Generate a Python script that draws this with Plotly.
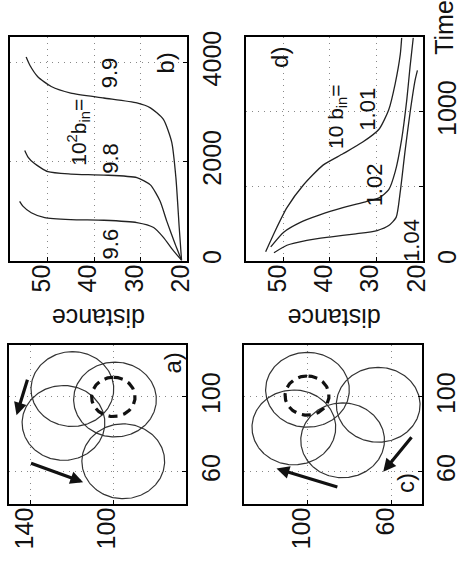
import numpy as np
import plotly.graph_objects as go

W, H = 463, 566

# ---------------- data ----------------
# panel b: distance vs time for 10^2 b_in = 9.6, 9.8, 9.9
b_labels = ["9.6", "9.8", "9.9"]
b_time_96 = [14, 212, 475, 673, 772, 818, 832, 871, 970, 1103, 1200]
b_dist_96 = [21.2, 23.0, 25.1, 27.2, 30.8, 37.9, 45.0, 50.6, 53.5, 55.3, 56.0]
b_time_98 = [14, 343, 806, 1202, 1531, 1677, 1729, 1749, 1796, 1960, 2092, 2224]
b_dist_98 = [21.2, 22.6, 24.4, 25.8, 27.9, 30.8, 37.9, 45.0, 49.9, 52.8, 54.2, 54.9]
b_time_99 = [14, 673, 1663, 2389, 2851, 3083, 3182, 3281, 3380, 3512, 3710, 3941, 4106]
b_dist_99 = [21.2, 21.7, 22.4, 23.3, 25.1, 27.9, 30.8, 37.9, 45.0, 49.2, 52.1, 53.8, 54.6]

# panel d: distance vs time for 10 b_in = 1.01, 1.02, 1.04
d_labels = ["1.01", "1.02", "1.04"]
d_time_101 = [61, 204, 357, 511, 643, 719, 796, 884, 1015, 1191, 1388, 1498]
d_dist_101 = [53.9, 51.8, 49.3, 45.7, 41.5, 37.2, 33.0, 29.4, 27.3, 25.9, 24.8, 24.5]
d_time_102 = [94, 193, 259, 309, 357, 397, 423, 478, 599, 818, 1081, 1301, 1498]
d_dist_102 = [52.8, 50.0, 46.4, 42.2, 37.2, 32.3, 29.4, 27.3, 25.9, 24.5, 23.4, 22.7, 22.0]
d_time_104 = [55, 105, 138, 160, 182, 204, 237, 292, 467, 730, 993, 1213, 1279]
d_dist_104 = [52.1, 49.3, 45.0, 40.1, 34.4, 29.8, 27.3, 25.7, 24.8, 23.8, 22.7, 21.6, 21.1]

# panel a: circles (x, y, radius)
a_circle_x = [65.6, 86.1, 104.2, 98.6]
a_circle_y = [95.2, 124.1, 119.8, 99.2]
a_circle_r = [20, 20, 20, 20]
a_dash_x, a_dash_y, a_dash_r = 100, 100, 10.5
a_arrow_x0 = [64.9, 110.0]
a_arrow_y0 = [140.5, 141.3]
a_arrow_x1 = [54.4, 90.2]
a_arrow_y1 = [114.6, 146.8]

# panel c
c_circle_x = [103.8, 83.7, 95.8, 76.8]
c_circle_y = [100.1, 106.6, 66.3, 83.3]
c_circle_r = [20, 20, 20, 20]
c_dash_x, c_dash_y, c_dash_r = 100.7, 100.3, 10.5
c_arrow_x0 = [51.6, 79.3]
c_arrow_y0 = [85.1, 49.8]
c_arrow_x1 = [61.7, 60.0]
c_arrow_y1 = [114.9, 63.9]

# ---------------- helpers ----------------
FONT = "Liberation Sans, Arial, Helvetica, sans-serif"
FS = 25


def px(x, y):
    return x / W, 1 - y / H


def dom(x0, x1, y0, y1):
    return [x0 / W, x1 / W], [1 - y1 / H, 1 - y0 / H]


fig = go.Figure()

line_style = dict(color="#222", width=1.3)


def add_curve(t, d, ax):
    # figure is rotated: distance runs horizontally, time vertically
    fig.add_trace(go.Scatter(x=d, y=t, mode="lines", line=dict(shape="spline", smoothing=0.6, **line_style),
                             xaxis="x" + ax, yaxis="y" + ax, showlegend=False, hoverinfo="skip"))


def add_circle(cx, cy, r, ax, dash=False):
    th = np.linspace(0, 2 * np.pi, 240)
    ox = cx + r * np.cos(th)
    oy = cy + r * np.sin(th)
    if dash:
        ln = dict(color="#111", width=3.2, dash="9px,6px")
    else:
        ln = dict(color="#333", width=1.2)
    fig.add_trace(go.Scatter(x=oy, y=ox, mode="lines", line=ln,
                             xaxis="x" + ax, yaxis="y" + ax, showlegend=False, hoverinfo="skip"))


add_curve(b_time_96, b_dist_96, "")
add_curve(b_time_98, b_dist_98, "")
add_curve(b_time_99, b_dist_99, "")
add_curve(d_time_101, d_dist_101, "2")
add_curve(d_time_102, d_dist_102, "2")
add_curve(d_time_104, d_dist_104, "2")

for cx, cy, r in zip(a_circle_x, a_circle_y, a_circle_r):
    add_circle(cx, cy, r, "3")
add_circle(a_dash_x, a_dash_y, a_dash_r, "3", dash=True)
for cx, cy, r in zip(c_circle_x, c_circle_y, c_circle_r):
    add_circle(cx, cy, r, "4")
add_circle(c_dash_x, c_dash_y, c_dash_r, "4", dash=True)

annotations = []


def add_arrows(x0s, y0s, x1s, y1s, ax):
    for x0, y0, x1, y1 in zip(x0s, y0s, x1s, y1s):
        annotations.append(dict(x=y1, y=x1, ax=y0, ay=x0, xref="x" + ax, yref="y" + ax,
                                axref="x" + ax, ayref="y" + ax, showarrow=True, arrowhead=2,
                                arrowsize=0.8, arrowwidth=3.2, arrowcolor="#111", text=""))


add_arrows(a_arrow_x0, a_arrow_y0, a_arrow_x1, a_arrow_y1, "3")
add_arrows(c_arrow_x0, c_arrow_y0, c_arrow_x1, c_arrow_y1, "4")


def txt(s, x, y, angle=-90, size=FS):
    X, Y = px(x, y)
    annotations.append(dict(text=s, x=X, y=Y, xref="paper", yref="paper", showarrow=False,
                            textangle=angle, font=dict(family=FONT, size=size, color="#111"),
                            xanchor="center", yanchor="middle"))


txt("b)", 168, 58, size=24)
txt("d)", 283, 52, size=24)
txt("a)", 175, 363, size=24)
txt("c)", 412, 485, size=24)
txt(b_labels[0], 112, 242, size=22)
txt(b_labels[1], 112, 155, size=22)
txt(b_labels[2], 112, 68, size=22)
txt("10<sup>2</sup>b<sub>in</sub>=", 80, 128, size=21)
txt(d_labels[0], 373, 105, size=22)
txt(d_labels[1], 380, 182, size=22)
txt(d_labels[2], 418, 238, size=22)
txt("10 b<sub>in</sub>=", 342, 112, size=21)
txt("distance", 100, 317, angle=180, size=25)
txt("distance", 339, 317, angle=180, size=25)
txt("Time", 450, 22, size=25)

base = dict(showline=True, mirror=True, linecolor="black", linewidth=1.5, ticks="inside", ticklen=4,
            tickcolor="black", showgrid=True, gridcolor="#888", griddash="1px,5px", gridwidth=1.2,
            zeroline=False, tickangle=-90, tickfont=dict(family=FONT, size=FS, color="#111"))
xbase = dict(base, ticklabelstandoff=-8, ticklabelshift=6)
ybase = dict(base, ticklabelstandoff=2)

xd_b, yd_b = dom(10, 190, 32, 259)
xd_d, yd_d = dom(250, 429, 32, 259)
xd_a, yd_a = dom(9, 189, 344, 506)
xd_c, yd_c = dom(248, 428, 344, 506)

fig.update_layout(
    width=W, height=H, margin=dict(l=0, r=0, t=0, b=0),
    paper_bgcolor="white", plot_bgcolor="white", showlegend=False,
    xaxis=dict(xbase, domain=xd_b, range=[58.1, 20], tickvals=[20, 30, 40, 50], anchor="y", side="bottom"),
    yaxis=dict(ybase, domain=yd_b, range=[0, 4500], tickvals=[0, 2000, 4000], anchor="x", side="right"),
    xaxis2=dict(xbase, domain=xd_d, range=[58.1, 20], tickvals=[20, 30, 40, 50], anchor="y2", side="bottom"),
    yaxis2=dict(ybase, domain=yd_d, range=[0, 1500], tickvals=[0, 500, 1000], ticktext=["0", "", "1000"],
                anchor="x2", side="right"),
    xaxis3=dict(xbase, domain=xd_a, range=[150.5, 64.8], tickvals=[100, 140], anchor="y3", side="bottom"),
    yaxis3=dict(ybase, domain=yd_a, range=[42.8, 128], tickvals=[60, 100], anchor="x3", side="right"),
    xaxis4=dict(xbase, domain=xd_c, range=[130.3, 45.6], tickvals=[60, 100], anchor="y4", side="bottom"),
    yaxis4=dict(ybase, domain=yd_c, range=[42.8, 128], tickvals=[60, 100], anchor="x4", side="right"),
    annotations=annotations,
)

fig.write_html("out.html")
